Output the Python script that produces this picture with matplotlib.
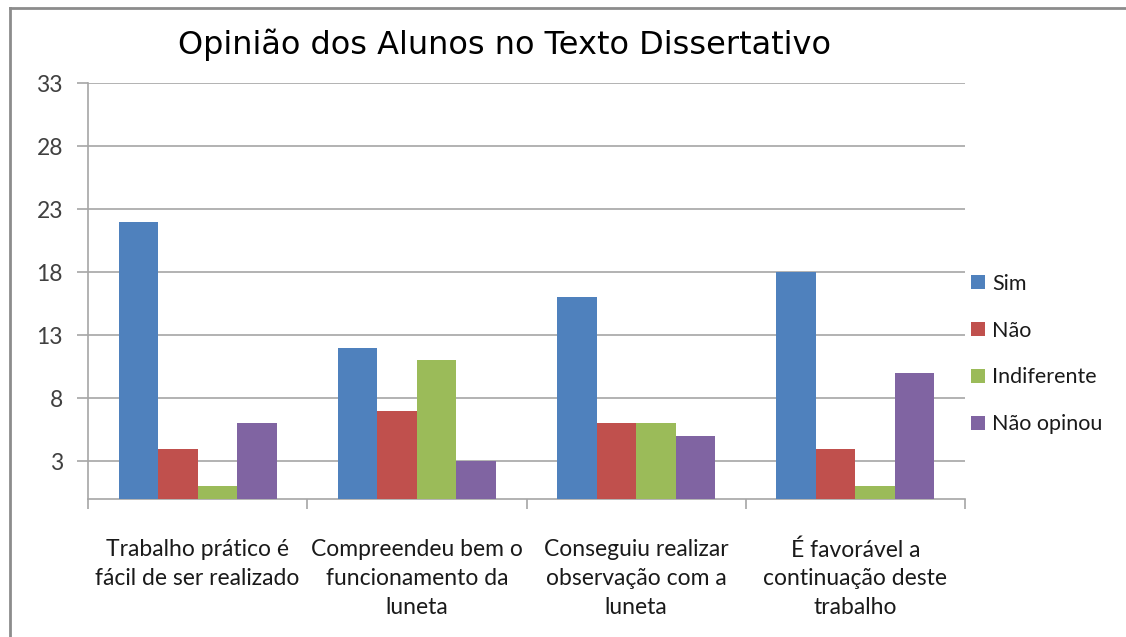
import matplotlib
matplotlib.use("Agg")
import matplotlib.pyplot as plt
import numpy as np
from matplotlib.patches import Patch
from matplotlib.lines import Line2D

categories = ["Trabalho prático é\nfácil de ser realizado",
              "Compreendeu bem o\nfuncionamento da\nluneta",
              "Conseguiu realizar\nobservação com a\nluneta",
              "É favorável a\ncontinuação deste\ntrabalho"]
series_names = ["Sim", "Não", "Indiferente", "Não opinou"]
sim = [22, 12, 16, 18]
nao = [4, 7, 6, 4]
indiferente = [1, 11, 6, 1]
nao_opinou = [6, 3, 5, 10]
yticks = [3, 8, 13, 18, 23, 28, 33]

colors = ["#4F81BD", "#C0504D", "#9BBB59", "#8064A2"]
series = [sim, nao, indiferente, nao_opinou]

fig = plt.figure(figsize=(11.26, 6.37), dpi=100)
ax = fig.add_axes([88/1126, 1-499/637, (965-88)/1126, (499-83)/637])

x = np.arange(len(categories))
bw = 0.18
for i, (vals, c) in enumerate(zip(series, colors)):
    ax.bar(x + (i - 1.5) * bw, vals, width=bw, color=c, edgecolor='none', zorder=3, label=series_names[i])

ax.set_xlim(-0.5, len(categories) - 0.5)
ax.set_ylim(0, 33)
ax.set_yticks(yticks)
ax.yaxis.grid(True, color="#A6A6A6", linewidth=1.2, zorder=0)
ax.tick_params(axis='y', length=8, color="#A6A6A6", width=1.2, labelsize=16.5, labelcolor="#404040", pad=10)
ax.set_yticklabels([str(t) for t in yticks], family=["Lato", "DejaVu Sans"])

ax.set_xticks(np.arange(len(categories) + 1) - 0.5)
ax.set_xticklabels([])
ax.tick_params(axis='x', length=7, color="#A6A6A6", width=1.2)
ax.set_xticks(x, minor=True)
ax.set_xticklabels(categories, minor=True, fontsize=16.5, family=["Lato", "DejaVu Sans"],
                   color="#1a1a1a", linespacing=1.45, ha='center', va='top')
ax.tick_params(axis='x', which='minor', length=0, pad=29)

for s in ["top", "right"]:
    ax.spines[s].set_visible(False)
for s in ["left", "bottom"]:
    ax.spines[s].set_color("#A6A6A6")
    ax.spines[s].set_linewidth(1.2)

handles = [Patch(facecolor=c, edgecolor='none') for c in colors]
leg = fig.legend(handles, series_names, loc='center left', bbox_to_anchor=(952/1126, 1-354/637),
                 frameon=False, prop={'family': ["Lato", "DejaVu Sans"], 'size': 15.5},
                 handlelength=0.65, handleheight=0.65, handletextpad=0.3, labelspacing=1.25,
                 labelcolor="#1a1a1a")

fig.text(505/1126, 1-45/637, "Opinião dos Alunos no Texto Dissertativo", ha='center', va='center',
         fontsize=23, family="DejaVu Sans", color="#000000")

# outer frame (top and left visible)
fig.add_artist(Line2D([10/1126, 10/1126], [0, 1-8/637], transform=fig.transFigure, color="#8C8C8C", linewidth=2))
fig.add_artist(Line2D([10/1126, 1], [1-8/637, 1-8/637], transform=fig.transFigure, color="#8C8C8C", linewidth=2))

fig.savefig("out.png", dpi=100)
